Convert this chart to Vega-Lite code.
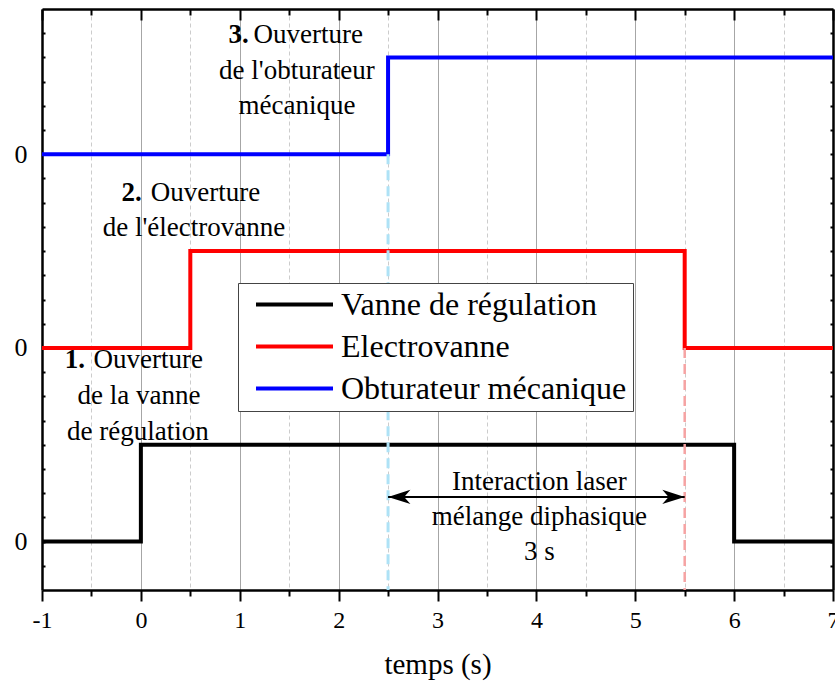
{
  "$schema": "https://vega.github.io/schema/vega-lite/v6.json",
  "autosize": {"type": "none"},
  "width": 791,
  "height": 581,
  "padding": {"left": 42, "top": 9, "right": 2, "bottom": 97},
  "background": "white",
  "config": {
    "view": {"stroke": null},
    "font": "Liberation Serif",
    "axis": {"labelFont": "Liberation Serif", "titleFont": "Liberation Serif", "labelColor": "black", "titleColor": "black", "domainColor": "black", "tickColor": "black", "domainWidth": 2.5, "tickWidth": 2}
  },
  "datasets": {
    "signals": [
      {"serie": "Vanne de régulation", "t": -1, "v": 0},
      {"serie": "Vanne de régulation", "t": 0, "v": 1},
      {"serie": "Vanne de régulation", "t": 6, "v": 0},
      {"serie": "Vanne de régulation", "t": 7, "v": 0},
      {"serie": "Electrovanne", "t": -1, "v": 2},
      {"serie": "Electrovanne", "t": 0.5, "v": 3},
      {"serie": "Electrovanne", "t": 5.5, "v": 2},
      {"serie": "Electrovanne", "t": 7, "v": 2},
      {"serie": "Obturateur mécanique", "t": -1, "v": 4},
      {"serie": "Obturateur mécanique", "t": 2.5, "v": 5},
      {"serie": "Obturateur mécanique", "t": 7, "v": 5}
    ],
    "guides": [
      {"serie": "Obturateur mécanique", "t": 2.5, "top": 4, "bottom": -0.5},
      {"serie": "Electrovanne", "t": 5.5, "top": 2, "bottom": -0.5}
    ],
    "interval": [
      {"start": 2.5, "end": 5.5, "v": 0.461}
    ],
    "notes": [
      {"kind": "num", "t": 1.09, "v": 5.232, "label": "3."},
      {"kind": "head", "t": 1.14, "v": 5.232, "label": "Ouverture"},
      {"kind": "line", "t": 1.578, "v": 4.86, "label": "de l'obturateur"},
      {"kind": "line", "t": 1.578, "v": 4.498, "label": "mécanique"},
      {"kind": "num", "t": 0.01, "v": 3.6, "label": "2."},
      {"kind": "head", "t": 0.1, "v": 3.6, "label": "Ouverture"},
      {"kind": "line", "t": 0.537, "v": 3.238, "label": "de l'électrovanne"},
      {"kind": "num", "t": -0.565, "v": 1.875, "label": "1."},
      {"kind": "head", "t": -0.48, "v": 1.875, "label": "Ouverture"},
      {"kind": "line", "t": -0.02, "v": 1.503, "label": "de la vanne"},
      {"kind": "line", "t": -0.03, "v": 1.132, "label": "de régulation"},
      {"kind": "line", "t": 4.03, "v": 0.615, "label": "Interaction laser"},
      {"kind": "line", "t": 4.03, "v": 0.254, "label": "mélange diphasique"},
      {"kind": "line", "t": 4.03, "v": -0.108, "label": "3 s"}
    ]
  },
  "resolve": {"axis": {"x": "independent", "y": "independent"}},
  "layer": [
    {
      "data": {"name": "signals"},
      "mark": {"type": "line", "interpolate": "step-after", "strokeWidth": 4, "strokeJoin": "miter"},
      "encoding": {
        "x": {
          "field": "t", "type": "quantitative",
          "scale": {"domain": [-1, 7], "nice": false, "zero": false},
          "axis": {
            "orient": "bottom",
            "values": [-1, -0.5, 0, 0.5, 1, 1.5, 2, 2.5, 3, 3.5, 4, 4.5, 5, 5.5, 6, 6.5, 7],
            "labelExpr": "datum.value % 1 === 0 ? '' + datum.value : ''",
            "labelFontSize": 24,
            "labelPadding": 7,
            "labelFlush": false,
            "labelOverlap": false,
            "tickSize": {"condition": {"test": "datum.value % 1 === 0", "value": 11}, "value": 6},
            "grid": true,
            "gridColor": {"condition": {"test": "datum.value % 1 === 0", "value": "#a6a6a6"}, "value": "#cccccc"},
            "gridDash": {"condition": {"test": "datum.value % 1 === 0", "value": []}, "value": [4, 3]},
            "gridWidth": 1,
            "title": "temps (s)",
            "titleFontSize": 29,
            "titleFontWeight": "normal",
            "titlePadding": 18
          }
        },
        "y": {
          "field": "v", "type": "quantitative",
          "scale": {"domain": [-0.5, 5.5], "nice": false, "zero": false},
          "axis": {
            "orient": "left",
            "values": [-0.25, 0, 0.25, 0.5, 0.75, 1, 1.25, 1.5, 1.75, 2, 2.25, 2.5, 2.75, 3, 3.25, 3.5, 3.75, 4, 4.25, 4.5, 4.75, 5, 5.25],
            "labelExpr": "datum.value === 0 || datum.value === 2 || datum.value === 4 ? '0' : ''",
            "labelFontSize": 26,
            "labelPadding": 18,
            "labelOverlap": false,
            "tickSize": -3,
            "grid": false,
            "title": null
          }
        },
        "color": {
          "field": "serie", "type": "nominal",
          "scale": {"domain": ["Vanne de régulation", "Electrovanne", "Obturateur mécanique"], "range": ["#000000", "#ff0000", "#0000ff"]},
          "legend": {
            "orient": "none", "legendX": 196, "legendY": 274, "title": null,
            "symbolType": "stroke", "symbolSize": 5929, "symbolStrokeWidth": 4,
            "labelFont": "Liberation Serif", "labelFontSize": 32, "labelColor": "black", "labelLimit": 600, "labelOffset": 6,
            "strokeColor": "#444444", "fillColor": "white", "padding": 6, "rowPadding": 9, "clipHeight": 31, "symbolOffset": 10
          }
        }
      }
    },
    {
      "data": {"name": "guides"},
      "transform": [{"filter": "datum.serie === 'Obturateur mécanique'"}],
      "mark": {"type": "rule", "color": "#aee2f6", "strokeWidth": 3, "strokeDash": [10, 6]},
      "encoding": {
        "x": {
          "field": "t", "type": "quantitative",
          "scale": {"domain": [-1, 7], "nice": false, "zero": false},
          "axis": {
            "orient": "top",
            "values": [-1, -0.5, 0, 0.5, 1, 1.5, 2, 2.5, 3, 3.5, 4, 4.5, 5, 5.5, 6, 6.5, 7],
            "labels": false,
            "grid": false,
            "tickSize": {"condition": {"test": "datum.value % 1 === 0", "value": -11}, "value": -6},
            "title": null
          }
        },
        "y": {
          "field": "top", "type": "quantitative",
          "scale": {"domain": [-0.5, 5.5], "nice": false, "zero": false},
          "axis": {
            "orient": "right",
            "values": [-0.25, 0, 0.25, 0.5, 0.75, 1, 1.25, 1.5, 1.75, 2, 2.25, 2.5, 2.75, 3, 3.25, 3.5, 3.75, 4, 4.25, 4.5, 4.75, 5, 5.25],
            "labels": false,
            "grid": false,
            "tickSize": -3,
            "title": null
          }
        },
        "y2": {"field": "bottom"}
      }
    },
    {
      "data": {"name": "guides"},
      "transform": [{"filter": "datum.serie === 'Electrovanne'"}],
      "mark": {"type": "rule", "color": "#f6a3a3", "strokeWidth": 2.5, "strokeDash": [10, 6]},
      "encoding": {
        "x": {"field": "t", "type": "quantitative", "axis": null},
        "y": {"field": "top", "type": "quantitative", "axis": null},
        "y2": {"field": "bottom"}
      }
    },
    {
      "data": {"name": "interval"},
      "mark": {"type": "rule", "color": "black", "strokeWidth": 2},
      "encoding": {
        "x": {"field": "start", "type": "quantitative", "axis": null},
        "x2": {"field": "end"},
        "y": {"field": "v", "type": "quantitative", "axis": null}
      }
    },
    {
      "data": {"name": "interval"},
      "mark": {"type": "point", "shape": "M0,0L1,-0.32L0.72,0L1,0.32Z", "size": 2000, "filled": true, "color": "black", "opacity": 1, "strokeWidth": 0},
      "encoding": {
        "x": {"field": "start", "type": "quantitative", "axis": null},
        "y": {"field": "v", "type": "quantitative", "axis": null}
      }
    },
    {
      "data": {"name": "interval"},
      "mark": {"type": "point", "shape": "M0,0L-1,-0.32L-0.72,0L-1,0.32Z", "size": 2000, "filled": true, "color": "black", "opacity": 1, "strokeWidth": 0},
      "encoding": {
        "x": {"field": "end", "type": "quantitative", "axis": null},
        "y": {"field": "v", "type": "quantitative", "axis": null}
      }
    },
    {
      "data": {"name": "notes"},
      "transform": [{"filter": "datum.kind === 'num'"}],
      "mark": {"type": "text", "font": "Liberation Serif", "fontSize": 27, "fontWeight": "bold", "align": "right", "baseline": "middle", "color": "black"},
      "encoding": {
        "x": {"field": "t", "type": "quantitative", "axis": null},
        "y": {"field": "v", "type": "quantitative", "axis": null},
        "text": {"field": "label"}
      }
    },
    {
      "data": {"name": "notes"},
      "transform": [{"filter": "datum.kind === 'head'"}],
      "mark": {"type": "text", "font": "Liberation Serif", "fontSize": 27, "align": "left", "baseline": "middle", "color": "black"},
      "encoding": {
        "x": {"field": "t", "type": "quantitative", "axis": null},
        "y": {"field": "v", "type": "quantitative", "axis": null},
        "text": {"field": "label"}
      }
    },
    {
      "data": {"name": "notes"},
      "transform": [{"filter": "datum.kind === 'line'"}],
      "mark": {"type": "text", "font": "Liberation Serif", "fontSize": 27, "align": "center", "baseline": "middle", "color": "black"},
      "encoding": {
        "x": {"field": "t", "type": "quantitative", "axis": null},
        "y": {"field": "v", "type": "quantitative", "axis": null},
        "text": {"field": "label"}
      }
    }
  ]
}
